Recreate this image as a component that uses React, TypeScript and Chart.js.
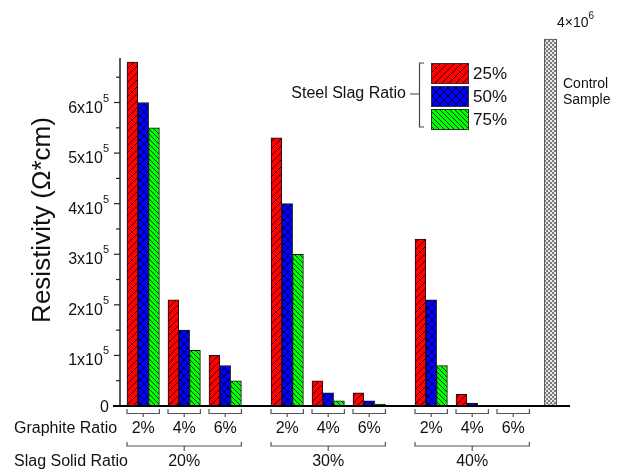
import React, { useEffect, useRef } from 'react';
import { Chart, registerables } from 'chart.js';

Chart.register(...registerables);

// ---------------- data ----------------
const slagSolidRatios = ['20%', '30%', '40%'];
const graphiteRatios = ['2%', '4%', '6%'];
const steelSlagRatios = ['25%', '50%', '75%'];
// order: [20%: 2%,4%,6% | 30%: 2%,4%,6% | 40%: 2%,4%,6%]
const resistivity25 = [680000, 210000, 100000, 530000, 50000, 26000, 330000, 23000, 500];
const resistivity50 = [600000, 150000, 80000, 400000, 26000, 10000, 210000, 6000, 300];
const resistivity75 = [550000, 110000, 50000, 300000, 10000, 4000, 80000, 1000, 200];
const controlLabelLines = ['Control', 'Sample'];
const controlValue = 4000000;
const yTickValues = [0, 100000, 200000, 300000, 400000, 500000, 600000];
const yMinorStep = 50000;

// ---------------- layout ----------------
const W = 630;
const H = 473;
const PLOT = { left: 120, right: 570, top: 58, bottom: 406 };
const Y_MAX = 688000;
const CONTROL_TOP_PX = 39;
const FIRST = 7;
const GROUP_STRIDE = 144;
const SUB_STRIDE = 41;
const BAR_W = 10.8;
const CONTROL_X = 430.5;
const CONTROL_W = 12.5;
const FONT = '"Liberation Sans", Arial, Helvetica, sans-serif';

const barCenter = (i: number, b: number) =>
  FIRST + Math.floor(i / 3) * GROUP_STRIDE + (i % 3) * SUB_STRIDE + b * BAR_W + BAR_W / 2;
const subStart = (g: number, s: number) => FIRST + g * GROUP_STRIDE + s * SUB_STRIDE;

function makePattern(bg: string, kind: string, size: number, line: string) {
  const c = document.createElement('canvas');
  c.width = size;
  c.height = size;
  const g = c.getContext('2d')!;
  g.fillStyle = bg;
  g.fillRect(0, 0, size, size);
  g.strokeStyle = line;
  g.lineWidth = 0.8;
  const fwd = () => {
    g.beginPath();
    g.moveTo(-1, size + 1); g.lineTo(size + 1, -1);
    g.moveTo(-1, 1); g.lineTo(1, -1);
    g.moveTo(size - 1, size + 1); g.lineTo(size + 1, size - 1);
    g.stroke();
  };
  const back = () => {
    g.beginPath();
    g.moveTo(-1, -1); g.lineTo(size + 1, size + 1);
    g.moveTo(size - 1, -1); g.lineTo(size + 1, 1);
    g.moveTo(-1, size - 1); g.lineTo(1, size + 1);
    g.stroke();
  };
  if (kind === 'fwd') fwd();
  if (kind === 'back') back();
  if (kind === 'cross') { fwd(); back(); }
  if (kind === 'check') {
    g.fillStyle = line;
    const h = size / 2;
    g.fillRect(0, 0, h, h);
    g.fillRect(h, h, h, h);
  }
  return g.createPattern(c, 'repeat')!;
}

function drawSci(ctx: CanvasRenderingContext2D, base: string, exp: string, x: number, tickY: number,
  mainSize: number, supSize: number, align: 'right' | 'left', mainDy: number, supDy: number) {
  ctx.textBaseline = 'alphabetic';
  ctx.textAlign = 'left';
  ctx.font = `${mainSize}px ${FONT}`;
  const mw = ctx.measureText(base).width;
  ctx.font = `${supSize}px ${FONT}`;
  const sw = ctx.measureText(exp).width;
  const start = align === 'right' ? x - mw - sw : x;
  ctx.font = `${mainSize}px ${FONT}`;
  ctx.fillText(base, start, tickY + mainDy);
  ctx.font = `${supSize}px ${FONT}`;
  ctx.fillText(exp, start + mw, tickY + supDy);
}

export default function App() {
  const ref = useRef<HTMLCanvasElement | null>(null);

  useEffect(() => {
    const canvas = ref.current!;
    const pRed = makePattern('#ff0000', 'fwd', 7, '#000');
    const pBlue = makePattern('#0000ff', 'cross', 8, '#000');
    const pGreen = makePattern('#00ff00', 'back', 5, '#000');
    const pCtrl = makePattern('#e6e6e6', 'check', 4, '#7a7a7a');
    const patterns = [pRed, pBlue, pGreen];
    const series = [resistivity25, resistivity50, resistivity75];

    const overlay = {
      id: 'overlay',
      afterDraw(chart: any) {
        const ctx: CanvasRenderingContext2D = chart.ctx;
        const xs = chart.scales.x;
        const ys = chart.scales.y;
        const ax = xs.getPixelForValue(0);
        const y0 = ys.getPixelForValue(0);
        ctx.save();
        ctx.fillStyle = '#111';
        ctx.strokeStyle = '#222';

        // y axis
        ctx.lineWidth = 1.5;
        ctx.beginPath();
        ctx.moveTo(ax, ys.getPixelForValue(Y_MAX));
        ctx.lineTo(ax, y0);
        ctx.stroke();
        ctx.lineWidth = 1.2;
        for (let k = 0; k * yMinorStep <= Y_MAX; k++) {
          const py = ys.getPixelForValue(k * yMinorStep);
          const len = k % 2 === 0 ? 6 : 4;
          ctx.beginPath();
          ctx.moveTo(ax - len, py);
          ctx.lineTo(ax, py);
          ctx.stroke();
        }
        // y labels
        yTickValues.forEach((v) => {
          const py = ys.getPixelForValue(v);
          if (v === 0) {
            ctx.font = `16px ${FONT}`;
            ctx.textAlign = 'right';
            ctx.textBaseline = 'alphabetic';
            ctx.fillText('0', 109, py + 6);
          } else {
            drawSci(ctx, `${v / 100000}x10`, '5', 109, py, 16, 11, 'right', 10, -1);
          }
        });
        // y title
        ctx.save();
        ctx.translate(43, 220);
        ctx.rotate(-Math.PI / 2);
        ctx.font = `26px ${FONT}`;
        ctx.textAlign = 'center';
        ctx.textBaseline = 'middle';
        ctx.fillText('Resistivity (\u03A9*cm)', 0, 0);
        ctx.restore();

        // x axis
        ctx.strokeStyle = '#000';
        ctx.lineWidth = 2;
        ctx.beginPath();
        ctx.moveTo(113, y0);
        ctx.lineTo(xs.getPixelForValue(PLOT.right - PLOT.left), y0);
        ctx.stroke();

        // brackets
        ctx.strokeStyle = '#555';
        ctx.lineWidth = 1.2;
        const bracket = (x0: number, x1: number, top: number, mid: number, down: number) => {
          ctx.beginPath();
          ctx.moveTo(x0, top); ctx.lineTo(x0, mid); ctx.lineTo(x1, mid); ctx.lineTo(x1, top);
          const c = (x0 + x1) / 2;
          ctx.moveTo(c, mid); ctx.lineTo(c, down);
          ctx.stroke();
        };
        ctx.font = `16px ${FONT}`;
        ctx.textAlign = 'center';
        ctx.textBaseline = 'middle';
        slagSolidRatios.forEach((gl, g) => {
          graphiteRatios.forEach((sl, s) => {
            const x0 = xs.getPixelForValue(subStart(g, s));
            const x1 = xs.getPixelForValue(subStart(g, s) + 3 * BAR_W);
            bracket(x0, x1, 409, 413.5, 417);
            ctx.fillText(sl, (x0 + x1) / 2, 428.5);
          });
          const gx0 = xs.getPixelForValue(subStart(g, 0));
          const gx1 = xs.getPixelForValue(subStart(g, 2) + 3 * BAR_W);
          bracket(gx0, gx1, 442, 446, 451);
          ctx.fillText(gl, (gx0 + gx1) / 2, 461.5);
        });
        ctx.textAlign = 'left';
        ctx.fillText('Graphite Ratio', 14, 428.5);
        ctx.fillText('Slag Solid Ratio', 14, 462);

        // legend
        ctx.strokeStyle = '#444';
        ctx.lineWidth = 1.2;
        ctx.beginPath();
        ctx.moveTo(424, 63); ctx.lineTo(419.5, 63); ctx.lineTo(419.5, 127); ctx.lineTo(424, 127);
        ctx.moveTo(410, 94); ctx.lineTo(419.5, 94);
        ctx.stroke();
        ctx.font = `16px ${FONT}`;
        ctx.textAlign = 'right';
        ctx.textBaseline = 'middle';
        ctx.fillText('Steel Slag Ratio', 406, 94);
        const boxTops = [63, 86, 109];
        steelSlagRatios.forEach((lab, b) => {
          ctx.fillStyle = patterns[b];
          ctx.fillRect(431, boxTops[b], 38, 20);
          ctx.strokeStyle = '#333';
          ctx.lineWidth = 1;
          ctx.strokeRect(431.5, boxTops[b] + 0.5, 37, 20);
          ctx.fillStyle = '#111';
          ctx.font = `17px ${FONT}`;
          ctx.textAlign = 'left';
          ctx.fillText(lab, 473, boxTops[b] + 11);
        });

        // control sample annotations
        ctx.fillStyle = '#111';
        drawSci(ctx, '4\u00D710', '6', 557, 21.5, 14, 10, 'left', 5.2, -2.5);
        ctx.font = `14px ${FONT}`;
        ctx.textAlign = 'left';
        ctx.textBaseline = 'alphabetic';
        ctx.fillText(controlLabelLines[0], 563, 88);
        ctx.fillText(controlLabelLines[1], 563, 104);
        ctx.restore();
      },
    };

    const chart = new Chart(canvas, {
      type: 'bar',
      data: {
        datasets: [
          ...steelSlagRatios.map((label, b) => ({
            label,
            data: series[b].map((v, i) => ({ x: barCenter(i, b), y: v })),
            backgroundColor: patterns[b],
            borderColor: '#111',
            borderWidth: 1,
            barThickness: BAR_W,
            grouped: false,
            yAxisID: 'y',
          })),
          {
            label: controlLabelLines.join(' '),
            data: [{ x: CONTROL_X, y: controlValue }],
            backgroundColor: pCtrl,
            borderColor: '#555',
            borderWidth: 1,
            barThickness: CONTROL_W,
            grouped: false,
            yAxisID: 'y2',
            clip: false,
          },
        ] as any,
      },
      options: {
        responsive: false,
        animation: false,
        devicePixelRatio: 1,
        layout: {
          padding: { left: PLOT.left, right: W - PLOT.right, top: PLOT.top, bottom: H - PLOT.bottom },
        },
        plugins: { legend: { display: false }, tooltip: { enabled: false }, title: { display: false } },
        scales: {
          x: { type: 'linear', min: 0, max: PLOT.right - PLOT.left, offset: false, display: false },
          y: { type: 'linear', min: 0, max: Y_MAX, display: false },
          y2: {
            type: 'linear',
            min: 0,
            max: (controlValue * (PLOT.bottom - PLOT.top)) / (PLOT.bottom - CONTROL_TOP_PX),
            display: false,
          },
        },
      } as any,
      plugins: [overlay],
    });
    return () => chart.destroy();
  }, []);

  return (
    <div style={{ position: 'absolute', left: 0, top: 0, width: W, height: H, background: '#fff' }}>
      <canvas ref={ref} width={W} height={H} style={{ display: 'block', width: W, height: H }} />
    </div>
  );
}
